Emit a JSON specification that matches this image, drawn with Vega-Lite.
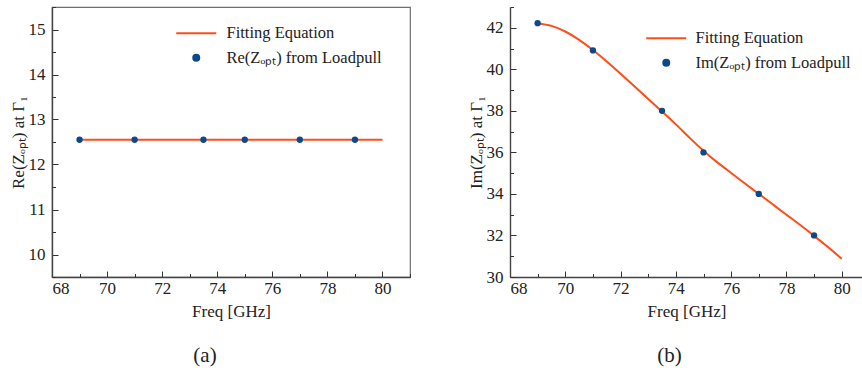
{
  "$schema": "https://vega.github.io/schema/vega-lite/v6.json",
  "padding": {"left": 8, "top": 5, "right": 0, "bottom": 0},
  "background": "white",
  "datasets": {
    "fitA": [
      {"freq": 69, "val": 12.55, "series": "Fitting Equation"},
      {"freq": 80, "val": 12.55, "series": "Fitting Equation"}
    ],
    "ptsA": [
      {"freq": 69, "val": 12.55, "series": "Re(Zₒₚₜ) from Loadpull"},
      {"freq": 71, "val": 12.55, "series": "Re(Zₒₚₜ) from Loadpull"},
      {"freq": 73.5, "val": 12.55, "series": "Re(Zₒₚₜ) from Loadpull"},
      {"freq": 75, "val": 12.55, "series": "Re(Zₒₚₜ) from Loadpull"},
      {"freq": 77, "val": 12.55, "series": "Re(Zₒₚₜ) from Loadpull"},
      {"freq": 79, "val": 12.55, "series": "Re(Zₒₚₜ) from Loadpull"}
    ],
    "fitB": [
      {"freq": 69, "val": 42.22, "series": "Fitting Equation"},
      {"freq": 69.5, "val": 42.09, "series": "Fitting Equation"},
      {"freq": 70, "val": 41.82, "series": "Fitting Equation"},
      {"freq": 70.5, "val": 41.42, "series": "Fitting Equation"},
      {"freq": 71, "val": 40.93, "series": "Fitting Equation"},
      {"freq": 71.5, "val": 40.38, "series": "Fitting Equation"},
      {"freq": 72, "val": 39.79, "series": "Fitting Equation"},
      {"freq": 72.5, "val": 39.18, "series": "Fitting Equation"},
      {"freq": 73, "val": 38.57, "series": "Fitting Equation"},
      {"freq": 73.5, "val": 37.97, "series": "Fitting Equation"},
      {"freq": 74, "val": 37.35, "series": "Fitting Equation"},
      {"freq": 74.5, "val": 36.7, "series": "Fitting Equation"},
      {"freq": 75, "val": 36.08, "series": "Fitting Equation"},
      {"freq": 75.5, "val": 35.52, "series": "Fitting Equation"},
      {"freq": 76, "val": 35.01, "series": "Fitting Equation"},
      {"freq": 76.5, "val": 34.5, "series": "Fitting Equation"},
      {"freq": 77, "val": 34.0, "series": "Fitting Equation"},
      {"freq": 77.5, "val": 33.5, "series": "Fitting Equation"},
      {"freq": 78, "val": 33.0, "series": "Fitting Equation"},
      {"freq": 78.5, "val": 32.5, "series": "Fitting Equation"},
      {"freq": 79, "val": 31.98, "series": "Fitting Equation"},
      {"freq": 79.5, "val": 31.44, "series": "Fitting Equation"},
      {"freq": 80, "val": 30.88, "series": "Fitting Equation"}
    ],
    "ptsB": [
      {"freq": 69, "val": 42.22, "series": "Im(Zₒₚₜ) from Loadpull"},
      {"freq": 71, "val": 40.91, "series": "Im(Zₒₚₜ) from Loadpull"},
      {"freq": 73.5, "val": 38.0, "series": "Im(Zₒₚₜ) from Loadpull"},
      {"freq": 75, "val": 36.0, "series": "Im(Zₒₚₜ) from Loadpull"},
      {"freq": 77, "val": 34.0, "series": "Im(Zₒₚₜ) from Loadpull"},
      {"freq": 79, "val": 32.0, "series": "Im(Zₒₚₜ) from Loadpull"}
    ]
  },
  "config": {
    "font": "Liberation Serif",
    "view": {"stroke": "#6e6e6e", "strokeWidth": 1.2},
    "style": {
      "guide-label": {"font": "Liberation Serif"},
      "guide-title": {"font": "Liberation Serif"}
    },
    "axis": {
      "grid": false,
      "labelFont": "Liberation Serif",
      "titleFont": "Liberation Serif",
      "labelFontSize": 17,
      "titleFontSize": 17,
      "titleFontWeight": "normal",
      "labelColor": "#222",
      "titleColor": "#222",
      "domainColor": "#444",
      "domainWidth": 1.4,
      "tickColor": "#333",
      "tickWidth": 1
    },
    "legend": {
      "labelFont": "Liberation Serif",
      "labelFontSize": 16.5,
      "labelColor": "#222",
      "labelLimit": 400,
      "padding": 0
    },
    "title": {"font": "Liberation Serif", "fontSize": 21, "fontWeight": "normal", "color": "#222", "orient": "bottom", "anchor": "middle", "offset": 26}
  },
  "spacing": 55,
  "resolve": {"scale": {"color": "independent"}, "legend": {"color": "independent"}},
  "hconcat": [
    {
      "width": 358,
      "height": 270,
      "title": {"text": "(a)", "dx": -26},
      "layer": [
        {
          "data": {"name": "fitA"},
          "mark": {"type": "line", "strokeWidth": 2},
          "encoding": {
            "x": {"field": "freq", "type": "quantitative", "scale": {"domain": [68, 81], "nice": false, "zero": false},
                  "axis": {"orient": "bottom", "values": [68, 70, 72, 74, 76, 78, 80], "tickSize": -6, "labelPadding": 9, "title": "Freq [GHz]", "titlePadding": 7, "labelFont": "Liberation Serif", "titleFont": "Liberation Serif"}},
            "y": {"field": "val", "type": "quantitative", "scale": {"domain": [9.5, 15.5], "nice": false, "zero": false},
                  "axis": {"orient": "left", "values": [10, 11, 12, 13, 14, 15], "tickSize": -6, "labelPadding": 13, "title": "Re(Zₒₚₜ) at Γ₁", "titlePadding": 1, "labelFont": "Liberation Serif", "titleFont": "Liberation Serif"}},
            "color": {"field": "series", "type": "nominal",
                      "scale": {"domain": ["Fitting Equation", "Re(Zₒₚₜ) from Loadpull"], "range": ["#ff4d1a", "#0b4a8a"]},
                      "legend": {"title": null, "orient": "none", "legendX": 136, "legendY": 18, "symbolSize": 36, "labelOffset": 22, "rowPadding": 7.5, "labelFont": "Liberation Serif",
                                 "encode": {"symbols": {"update": {
                                   "shape": {"signal": "datum.value === 'Fitting Equation' ? 'stroke' : 'circle'"},
                                   "size": {"signal": "datum.value === 'Fitting Equation' ? 1600 : 36"},
                                   "stroke": {"signal": "datum.value === 'Fitting Equation' ? '#ff4d1a' : 'transparent'"},
                                   "fill": {"signal": "datum.value === 'Fitting Equation' ? 'transparent' : '#0b4a8a'"},
                                   "strokeWidth": {"value": 2},
                                   "opacity": {"value": 1}
                                 }}}}}
          }
        },
        {
          "data": {"name": "ptsA"},
          "mark": {"type": "point", "filled": true, "size": 40, "opacity": 1},
          "encoding": {
            "x": {"field": "freq", "type": "quantitative",
                  "axis": {"orient": "bottom", "values": [69, 71, 73, 75, 77, 79, 81], "tickSize": -3.5, "labels": false, "domain": false, "title": null}},
            "y": {"field": "val", "type": "quantitative",
                  "axis": {"orient": "left", "values": [9.5, 10.5, 11.5, 12.5, 13.5, 14.5, 15.5], "tickSize": -3.5, "labels": false, "domain": false, "title": null}},
            "color": {"field": "series", "type": "nominal"}
          }
        }
      ],
      "resolve": {"axis": {"x": "independent", "y": "independent"}}
    },
    {
      "width": 353,
      "height": 270,
      "view": {"stroke": null},
      "title": {"text": "(b)", "dx": -17},
      "layer": [
        {
          "data": {"name": "fitB"},
          "mark": {"type": "line", "strokeWidth": 2, "interpolate": "natural"},
          "encoding": {
            "x": {"field": "freq", "type": "quantitative", "scale": {"domain": [68, 80.77], "nice": false, "zero": false},
                  "axis": {"orient": "bottom", "values": [68, 70, 72, 74, 76, 78, 80], "tickSize": -6, "labelPadding": 9, "title": "Freq [GHz]", "titlePadding": 7, "labelFont": "Liberation Serif", "titleFont": "Liberation Serif"}},
            "y": {"field": "val", "type": "quantitative", "scale": {"domain": [30, 43], "nice": false, "zero": false},
                  "axis": {"orient": "left", "values": [30, 32, 34, 36, 38, 40, 42], "tickSize": -6, "labelPadding": 13, "title": "Im(Zₒₚₜ) at Γ₁", "titlePadding": 1, "labelFont": "Liberation Serif", "titleFont": "Liberation Serif"}},
            "color": {"field": "series", "type": "nominal",
                      "scale": {"domain": ["Fitting Equation", "Im(Zₒₚₜ) from Loadpull"], "range": ["#ff4d1a", "#0b4a8a"]},
                      "legend": {"title": null, "orient": "none", "legendX": 148, "legendY": 23, "symbolSize": 36, "labelOffset": 21, "rowPadding": 7.5, "labelFont": "Liberation Serif",
                                 "encode": {"symbols": {"update": {
                                   "shape": {"signal": "datum.value === 'Fitting Equation' ? 'stroke' : 'circle'"},
                                   "size": {"signal": "datum.value === 'Fitting Equation' ? 1600 : 36"},
                                   "stroke": {"signal": "datum.value === 'Fitting Equation' ? '#ff4d1a' : 'transparent'"},
                                   "fill": {"signal": "datum.value === 'Fitting Equation' ? 'transparent' : '#0b4a8a'"},
                                   "strokeWidth": {"value": 2},
                                   "opacity": {"value": 1}
                                 }}}}}
          }
        },
        {
          "data": {"name": "ptsB"},
          "mark": {"type": "point", "filled": true, "size": 40, "opacity": 1},
          "encoding": {
            "x": {"field": "freq", "type": "quantitative",
                  "axis": {"orient": "bottom", "values": [69, 71, 73, 75, 77, 79], "tickSize": -3.5, "labels": false, "domain": false, "title": null}},
            "y": {"field": "val", "type": "quantitative",
                  "axis": {"orient": "left", "values": [31, 33, 35, 37, 39, 41, 43], "tickSize": -3.5, "labels": false, "domain": false, "title": null}},
            "color": {"field": "series", "type": "nominal"}
          }
        },
        {
          "mark": {"type": "rule", "color": "#6e6e6e", "strokeWidth": 1.2},
          "encoding": {
            "y": {"datum": 43, "type": "quantitative", "axis": null}
          }
        }
      ],
      "resolve": {"axis": {"x": "independent", "y": "independent"}}
    }
  ]
}
